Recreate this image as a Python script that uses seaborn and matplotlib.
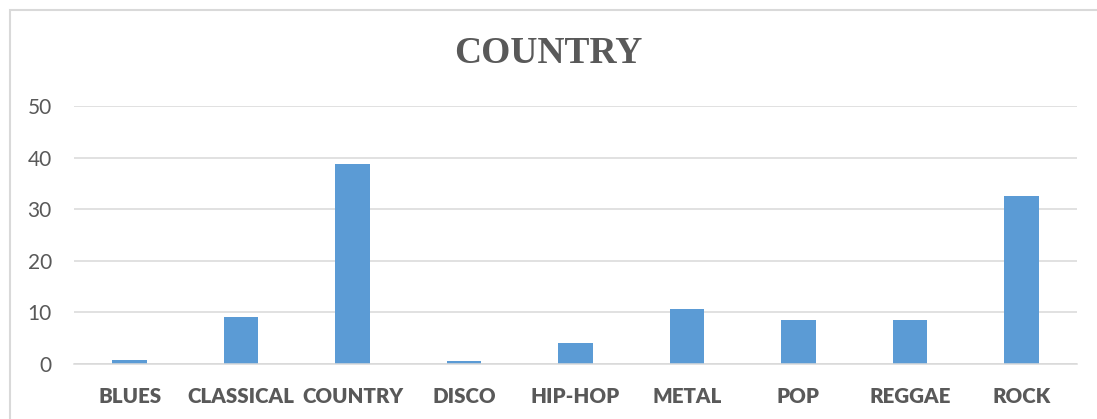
import matplotlib
matplotlib.use("Agg")
import matplotlib.pyplot as plt
import matplotlib.patches as patches
import seaborn as sns
import pandas as pd

# --- Data ---
genres = ["BLUES", "CLASSICAL", "COUNTRY", "DISCO", "HIP-HOP",
          "METAL", "POP", "REGGAE", "ROCK"]
scores = [0.7, 9.1, 38.8, 0.6, 4.0, 10.7, 8.5, 8.6, 32.6]
y_ticks = [0, 10, 20, 30, 40, 50]
title = "COUNTRY"

df = pd.DataFrame({"genre": genres, "score": scores})

sns.set_theme(style="white")
plt.rcParams["font.family"] = ["Lato", "DejaVu Sans"]

text_grey = "#595959"
grid_grey = "#d9d9d9"
bar_blue = "#5B9BD5"

fig = plt.figure(figsize=(10.97, 4.19), dpi=100)
ax = fig.add_axes([74 / 1097, 1 - 364 / 419, (1077 - 74) / 1097, (364 - 106) / 419])

sns.barplot(data=df, x="genre", y="score", color=bar_blue, width=0.31,
            saturation=1, edgecolor="none", ax=ax)

ax.set_ylim(0, 50)
ax.set_xlim(-0.5, len(genres) - 0.5)
ax.set_yticks(y_ticks)
ax.yaxis.grid(True, color=grid_grey, linewidth=1.1)
ax.set_axisbelow(True)
for side in ["top", "right", "left"]:
    ax.spines[side].set_visible(False)
ax.spines["bottom"].set_color(grid_grey)
ax.spines["bottom"].set_linewidth(1.1)

ax.set_xlabel("")
ax.set_ylabel("")
ax.tick_params(axis="y", length=0, pad=16, labelsize=15, labelcolor=text_grey)
ax.tick_params(axis="x", length=0, pad=16.5, labelsize=14.8, labelcolor=text_grey)
for lab in ax.get_xticklabels():
    lab.set_fontweight("heavy")

fig.text(0.5, 1 - 63 / 419, title, ha="center", va="baseline",
         fontsize=27, fontweight="bold", color=text_grey,
         family=["Liberation Serif", "DejaVu Serif"])

# light frame around the chart area, as in the exported picture
frame = patches.Rectangle((10 / 1097, -0.1), 1.2, 1 - 10 / 419 + 0.1,
                          transform=fig.transFigure, fill=False,
                          edgecolor=grid_grey, linewidth=1.5, clip_on=False)
fig.patches.append(frame)

fig.savefig("out.png", dpi=100)
